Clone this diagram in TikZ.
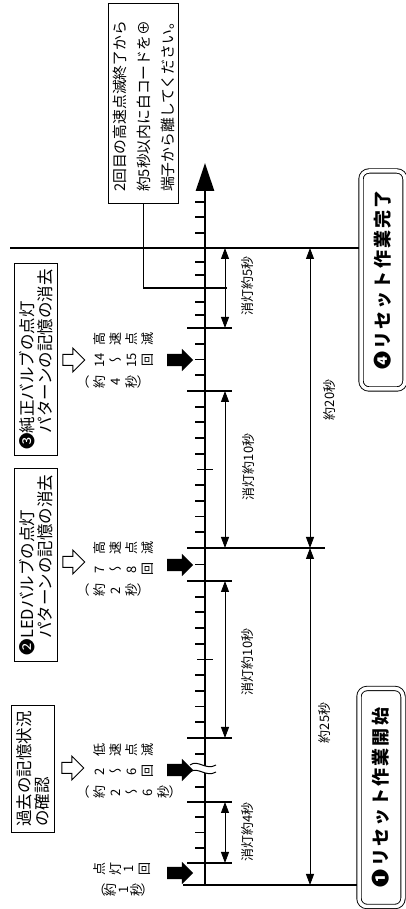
\documentclass[tikz,border=0pt]{standalone}
\usepackage{fontspec}
\usepackage{tikz}
\usetikzlibrary{arrows.meta,calc,shapes.arrows}
\newfontfamily\jp{Noto Sans CJK JP}
\newfontfamily\jpv[RawFeature=+vert]{Noto Sans CJK JP}
\newfontfamily\jpwide[LetterSpace=12]{Noto Sans CJK JP}
% one vertical line of text (read top to bottom before the node is turned)
\newcommand\vcol[1]{\begin{tabular}[t]{@{}c@{}}#1\end{tabular}}
\newcommand\vgap{\hspace{8pt}}
\tikzset{
  axis line/.style   = {line width=2.5pt, -{Triangle[length=28pt,width=18pt]}},
  sec tick/.style    = {line width=1.8pt},
  step tick/.style   = {line width=2.4pt},
  base line/.style   = {line width=2pt, shorten >=2pt},
  dim/.style         = {line width=0.8pt,
                        {Triangle[length=11pt,width=8pt]}-{Triangle[length=11pt,width=8pt]}},
  dim label/.style   = {rotate=90, inner sep=1pt, font=\jp\fontsize{13}{15}\selectfont},
  memo box/.style    = {draw, line width=1pt, fill=white, rotate=90, align=left,
                        inner xsep=6pt, inner ysep=5pt, font=\jp\fontsize{16.5}{18}\selectfont},
  note box/.style    = {memo box, inner xsep=12pt, inner ysep=4pt,
                        font=\jp\fontsize{14.8}{24}\selectfont},
  stage box/.style   = {draw, double, double distance=3.5pt, line width=0.9pt,
                        rounded corners=8pt, fill=white, rotate=90,
                        minimum width=218pt, minimum height=44pt,
                        font=\jpwide\bfseries\fontsize{18}{20}\selectfont},
  blink label/.style = {rotate=90, anchor=north, inner sep=0pt,
                        font=\jpv\fontsize{13}{16}\selectfont},
  hollow arrow/.style = {single arrow, draw, line width=1pt, fill=white, inner sep=0pt,
                        minimum height=22pt, single arrow head extend=6.5pt},
  fat arrow/.style   = {single arrow, fill=black, inner sep=0pt,
                        minimum height=26pt, single arrow head extend=5pt},
  link/.style        = {line width=1.2pt},
  wave/.style        = {line width=1pt},
}

\begin{document}
\begin{tikzpicture}[x=1pt,y=1pt]
  \useasboundingbox (0,0) rectangle (405,909);
  % time marks on the axis
  \coordinate (t0) at (205,24);
  \coordinate (t1) at (205,46);
  \coordinate (t2) at (205,107);
  \coordinate (t3) at (205,171);
  \coordinate (t4) at (205,328);
  \coordinate (t5) at (205,361);
  \coordinate (t6) at (205,518);
  \coordinate (t7) at (205,581);
  \coordinate (t8) at (205,661);
  \coordinate (tip) at (205,746);
  \coordinate (edge) at (10,661);
  \coordinate (limit) at (227,621);

  \node[stage box] (start) at (381,111.5) {❶リセット作業開始};
  \node[stage box] (done) at (383,629) {❹リセット作業完了};
  \node[memo box] (memo) at (33,140) {過去の記憶状況\\の確認};
  \node[memo box] (led) at (36,344) {❷LEDバルブの点灯\\\hspace*{1em}パターンの記憶の消去};
  \node[memo box] (pure) at (36,549.5) {❸純正バルブの点灯\\\hspace*{1em}パターンの記憶の消去};
  \node[note box] (note) at (143.5,805.5)
    {2回目の高速点滅終了から\\約5秒以内に白コードを⊕\\端子から離してください。};

  \draw[base line] ([xshift=-22pt]t0) -- (t0 -| start.north);
  \draw[base line] (edge) -- (edge -| done.north);
  \draw[axis line] (t0) -- (tip);

  % one second per tick
  \foreach \y in {61.25,76.5,91.75,122,155,186.7,202.4,218.1,233.8,265.2,280.9,
                  296.6,312.3,344.5,376.7,392.4,408.1,423.8,455.2,470.9,486.6,
                  502.3,533.75,549.5,565.25,594,607,634,647,676,692,707}
    \draw[sec tick] (195,\y) -- (205,\y);
  \foreach \y in {249.5,439.5}
    \draw[sec tick] (197,\y) -- (213,\y);
  \foreach \t in {t1,t2,t3,t4,t6,t7}
    \draw[step tick] ([xshift=-18pt]\t) -- ([xshift=27pt]\t);
  \draw[step tick] ([xshift=-18pt]t5) -- ([xshift=120pt]t5);

  % break in the axis
  \fill[white] (190,137) .. controls (198,143) and (206,131) .. (216,137)
    -- (216,144) .. controls (206,138) and (198,150) .. (190,144) -- cycle;
  \draw[wave] (190,137) .. controls (198,143) and (206,131) .. (216,137);
  \draw[wave] (190,144) .. controls (198,150) and (206,138) .. (216,144);

  \draw[dim] ([xshift=20pt]t1) -- ([xshift=20pt]t2);
  \draw[dim] ([xshift=20pt]t3) -- ([xshift=20pt]t4);
  \draw[dim] ([xshift=20pt]t5) -- ([xshift=20pt]t6);
  \draw[dim] ([xshift=20pt]t7) -- ([xshift=20pt]t8);
  \draw[dim] ([xshift=105pt]t0) -- ([xshift=105pt]t5);
  \draw[dim] ([xshift=105pt]t5) -- ([xshift=105pt]t8);
  \node[dim label] (off1) at (248,77) {消灯約4秒};
  \node[dim label] (off2) at (248,247) {消灯約10秒};
  \node[dim label] (off3) at (249,442) {消灯約10秒};
  \node[dim label] (off4) at (248,623) {消灯約5秒};
  \node[dim label] (sum1) at (325,186) {約25秒};
  \node[dim label] (sum2) at (330,509) {約20秒};

  \node[fat arrow] (f1) at (177,36) {\rule{0pt}{12pt}};
  \node[fat arrow] (f2) at (177,139) {\rule{0pt}{12pt}};
  \node[fat arrow] (f3) at (177,344) {\rule{0pt}{12pt}};
  \node[fat arrow] (f4) at (177,549) {\rule{0pt}{12pt}};
  \node[hollow arrow] (h1) at (70,141) {\rule{0pt}{10pt}};
  \node[hollow arrow] (h2) at (71,347) {\rule{0pt}{10pt}};
  \node[hollow arrow] (h3) at (71,549) {\rule{0pt}{10pt}};

  \node[blink label] (b1) at (93,29.5)
    {\vcol{（\\[-5pt]約\\[-3pt]1\\[-3pt]秒\\[-5pt]）}\vgap\vcol{点\\灯\\[-3pt]1\\回}};
  \node[blink label] (b2) at (77,137.5)
    {\vcol{（\\約\\2\\〜\\6\\秒\\[-4pt]）}\vgap\vcol{\mbox{}\\2\\〜\\6\\回}\vgap
     \vcol{\mbox{}\\低\\速\\点\\滅}};
  \node[blink label] (b3) at (77,339.5)
    {\vcol{（\\約\\2\\秒\\[-4pt]）}\vgap\vcol{\mbox{}\\7\\〜\\8\\回}\vgap
     \vcol{\mbox{}\\高\\速\\点\\滅}};
  \node[blink label] (b4) at (77,548.5)
    {\vcol{（\\約\\4\\秒\\[-4pt]）}\vgap\vcol{\mbox{}\\14\\〜\\15\\回}\vgap
     \vcol{\mbox{}\\高\\速\\点\\滅}};

  \draw[link] (note.west) |- (limit);
\end{tikzpicture}
\end{document}
